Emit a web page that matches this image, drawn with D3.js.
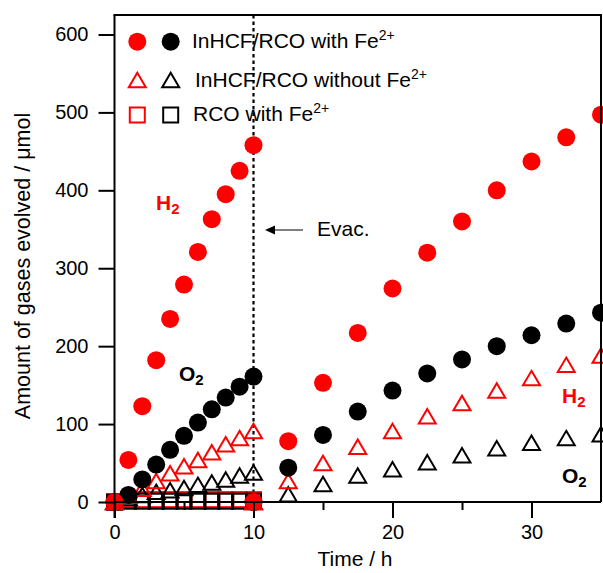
<!DOCTYPE html>
<html>
<head>
<meta charset="utf-8">
<script src="https://cdn.jsdelivr.net/npm/d3@7.9.0/dist/d3.min.js"></script>
<style>
  body { margin: 0; background: #fff; }
  svg text { font-family: "Liberation Sans", Arial, sans-serif; }
</style>
</head>
<body>
<svg id="chart" width="603" height="573"></svg>
<script>
// time points: first run hourly, second run (after evacuation) every 2.5 h
const run1Time = [0, 1, 2, 3, 4, 5, 6, 7, 8, 9, 10];
const run2Time = [10, 12.5, 15, 17.5, 20, 22.5, 25, 27.5, 30, 32.5, 35];

// InHCF/RCO with Fe2+
const h2WithFe1 = [0, 54, 123, 182, 235, 279, 321, 363, 395, 425, 458];
const h2WithFe2 = [0, 78, 153, 217, 274, 320, 360, 400, 437, 468, 497];
const o2WithFe1 = [0, 9, 29, 48, 67, 85, 102, 119, 134, 148, 161];
const o2WithFe2 = [0, 44, 86, 116, 143, 165, 183, 200, 214, 229, 243];

// InHCF/RCO without Fe2+
const h2NoFe1 = [0, 8, 17, 27, 37, 46, 54, 64, 74, 82, 91];
const h2NoFe2 = [0, 27, 50, 71, 91, 110, 127, 143, 159, 176, 188];
const o2NoFe1 = [0, 5, 9, 13, 15, 18, 22, 25, 29, 34, 38];
const o2NoFe2 = [0, 10, 23, 34, 42, 51, 60, 69, 76, 82, 87];

// RCO with Fe2+ (first run only)
const h2Rco = [0, 3, 3, 3, 3, 3, 3, 3, 3, 3, 3];
const o2Rco = [0, 1, 1, 1, 1, 1, 1, 1, 1, 1, 1];

const yTicks = [0, 100, 200, 300, 400, 500, 600];
const xMajorTicks = [0, 10, 20, 30];
const xMinorTicks = [5, 15, 25];

const RED = '#ff0000';
const BLACK = '#000000';

const svg = d3.select('#chart');
const x = d3.scaleLinear().domain([0, 35]).range([114.5, 601]);
const y = d3.scaleLinear().domain([0, 625]).range([502, 15]);

const toPoints = (times, values) => times.map((t, i) => ({ t, v: values[i] }));

const series = [
  { shape: 'square', color: RED, pts: toPoints(run1Time, h2Rco) },
  { shape: 'square', color: BLACK, pts: toPoints(run1Time, o2Rco) },
  { shape: 'triangle', color: BLACK, pts: toPoints(run1Time, o2NoFe1).concat(toPoints(run2Time, o2NoFe2)) },
  { shape: 'triangle', color: RED, pts: toPoints(run1Time, h2NoFe1).concat(toPoints(run2Time, h2NoFe2)) },
  { shape: 'circle', color: BLACK, pts: toPoints(run1Time, o2WithFe1).concat(toPoints(run2Time, o2WithFe2)) },
  { shape: 'circle', color: RED, pts: toPoints(run1Time, h2WithFe1).concat(toPoints(run2Time, h2WithFe2)) }
];

const triPath = (w, h) => `M0,${-h / 2}L${w / 2},${h / 2}L${-w / 2},${h / 2}Z`;

const drawMarker = (g, shape, color) => {
  if (shape === 'circle') {
    g.append('circle').attr('r', 9).attr('fill', color);
  } else if (shape === 'triangle') {
    g.append('path').attr('d', triPath(17, 14.5))
      .attr('fill', 'none').attr('stroke', color).attr('stroke-width', 2);
  } else {
    g.append('rect').attr('x', -7.5).attr('y', -7.5).attr('width', 15).attr('height', 15)
      .attr('fill', 'none').attr('stroke', color).attr('stroke-width', 2);
  }
};

// evacuation line
svg.append('line')
  .attr('x1', x(10)).attr('x2', x(10))
  .attr('y1', y(625)).attr('y2', y(0))
  .attr('stroke', BLACK).attr('stroke-width', 2.2)
  .attr('stroke-dasharray', '3.5,3');

// data marks
series.forEach(s => {
  svg.append('g').selectAll('g')
    .data(s.pts)
    .join('g')
    .attr('transform', d => `translate(${x(d.t)},${y(d.v)})`)
    .each(function () { drawMarker(d3.select(this), s.shape, s.color); });
});

// axes
const yAxis = svg.append('g')
  .attr('transform', `translate(${x(0)},0)`)
  .call(d3.axisLeft(y).tickValues(yTicks).tickSize(16).tickPadding(10).tickSizeOuter(0));
const xAxis = svg.append('g')
  .attr('transform', `translate(0,${y(0)})`)
  .call(d3.axisBottom(x).tickValues(xMajorTicks).tickSize(16).tickPadding(7).tickSizeOuter(0));
const xMinor = svg.append('g')
  .attr('transform', `translate(0,${y(0)})`)
  .call(d3.axisBottom(x).tickValues(xMinorTicks).tickSize(8).tickFormat('').tickSizeOuter(0));

[yAxis, xAxis, xMinor].forEach(a => {
  a.select('.domain').remove();
  a.selectAll('line').attr('stroke', BLACK).attr('stroke-width', 2);
  a.selectAll('text').attr('font-size', 20).attr('fill', BLACK)
    .style('font-family', '"Liberation Sans", Arial, sans-serif');
});

// frame
const frame = svg.append('g').attr('stroke', BLACK).attr('stroke-width', 2).attr('fill', 'none');
frame.append('line').attr('x1', x(0)).attr('x2', x(0)).attr('y1', y(625)).attr('y2', y(0) + 16);
frame.append('line').attr('x1', x(0)).attr('x2', x(35)).attr('y1', y(0)).attr('y2', y(0));
frame.append('line').attr('x1', x(0) - 1).attr('x2', x(35) + 1).attr('y1', y(625)).attr('y2', y(625));
frame.append('line').attr('x1', x(35)).attr('x2', x(35)).attr('y1', y(625)).attr('y2', y(0));

// axis titles
svg.append('text')
  .attr('x', 355).attr('y', 566)
  .attr('text-anchor', 'middle').attr('font-size', 21)
  .text('Time / h');
svg.append('text')
  .attr('transform', 'translate(30,266) rotate(-90)')
  .attr('text-anchor', 'middle').attr('font-size', 21.5)
  .text('Amount of gases evolved / μmol');

// legend
const legendRows = [
  { shape: 'circle', label: 'InHCF/RCO with Fe', cy: 41.7, tx: 192, ty: 48 },
  { shape: 'triangle', label: 'InHCF/RCO without Fe', cy: 80, tx: 195, ty: 87 },
  { shape: 'square', label: 'RCO with Fe', cy: 115, tx: 193, ty: 121 }
];
legendRows.forEach(r => {
  drawMarker(svg.append('g').attr('transform', `translate(137.3,${r.cy})`), r.shape, RED);
  drawMarker(svg.append('g').attr('transform', `translate(170.7,${r.cy})`), r.shape, BLACK);
  const t = svg.append('text').attr('x', r.tx).attr('y', r.ty).attr('font-size', 21);
  t.append('tspan').text(r.label);
  t.append('tspan').attr('font-size', 14).attr('dy', -8).text('2+');
});

// gas labels
const gasLabel = (px, py, gas, color) => {
  const t = svg.append('text').attr('x', px).attr('y', py)
    .attr('font-size', 21).attr('font-weight', 'bold').attr('fill', color);
  t.append('tspan').text(gas);
  t.append('tspan').attr('font-size', 15).attr('dy', 4).text('2');
};
gasLabel(156, 210, 'H', RED);
gasLabel(179, 381, 'O', BLACK);
gasLabel(562, 403, 'H', RED);
gasLabel(562, 483, 'O', BLACK);

// Evac. annotation
svg.append('line')
  .attr('x1', 303).attr('x2', 272).attr('y1', 230).attr('y2', 230)
  .attr('stroke', BLACK).attr('stroke-width', 1);
svg.append('path')
  .attr('d', 'M265,230L275,225.5L275,234.5Z')
  .attr('fill', BLACK);
svg.append('text')
  .attr('x', 317).attr('y', 236)
  .attr('font-size', 21)
  .text('Evac.');
</script>
</body>
</html>
